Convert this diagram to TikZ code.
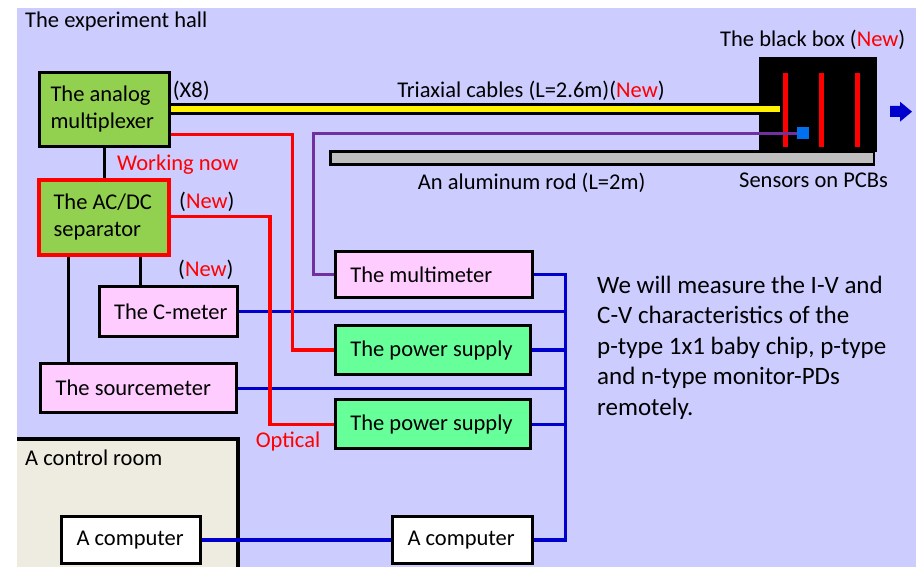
\documentclass[tikz,border=0pt]{standalone}
\usepackage{fontspec}
\setmainfont{Carlito}
\definecolor{hallbg}{HTML}{CCCCFF}
\definecolor{roombg}{HTML}{EEECE1}
\definecolor{muxgreen}{HTML}{92D050}
\definecolor{psgreen}{HTML}{66FF99}
\definecolor{meterpink}{HTML}{FFCCFF}
\definecolor{rodgray}{HTML}{BFBFBF}
\definecolor{fibrered}{HTML}{FF0000}
\definecolor{dmmpurple}{HTML}{7030A0}
\definecolor{gpibblue}{HTML}{0000CC}
\definecolor{pdblue}{HTML}{0070F0}
% Text links in einer Box fester Breite
\newcommand{\unittext}[2]{\makebox[#1pt][l]{#2}}
\tikzset{
  every node/.style={font=\fontsize{22.5}{27}\selectfont},
  unit/.style={draw=black, line width=3pt, inner xsep=15pt, inner ysep=0pt, align=left},
  lbl/.style={inner sep=0pt, text height=15pt, text depth=1pt},
  wire/.style={line width=3.3pt},
  optic/.style={draw=fibrered, line width=3.3pt},
  gpib/.style={draw=gpibblue, line width=3.3pt},
  cable/.style={draw=black, line width=3pt, double=yellow, double distance=6pt},
}
\begin{document}
\begin{tikzpicture}[x=1pt, y=-1pt, >=latex]
    \useasboundingbox (0,0) rectangle (924,567);
    % Halle und Kontrollraum
    \fill[hallbg] (17,8) rectangle (916,567);
    \fill[roombg] (17,438) rectangle (238,567);
    \draw[wire] (17,439) -- (238,439) -- (238,567);
    \node[lbl, anchor=west] (hall) at (25,20.7) {The experiment hall};
    \node[lbl, anchor=west] (room) at (25,458) {A control room};

    % Die schwarze Box mit Sensoren
    \node[fill=black, inner sep=0pt, minimum width=118, minimum height=95] (bbox) at (818,104.5) {};
    \foreach \i/\x in {1/785.5, 2/821.5, 3/857.5}
        \node[fill=fibrered, inner sep=0pt, minimum width=5, minimum height=74] (bar\i) at (\x,110) {};
    \node[fill=pdblue, inner sep=0pt, minimum size=12] (pd) at (803,133.5) {};
    \node[draw=black, line width=2.5pt, fill=rodgray, inner sep=0pt, minimum width=543.5, minimum height=13] (rod) at (602,158) {};
    \fill[gpibblue] (890,106) -- (900,106) -- (900,101.7) -- (912,111.7)
        -- (900,121.7) -- (900,117) -- (890,117) -- cycle;

    % Geraete
    \node[unit, fill=muxgreen, inner xsep=11pt, minimum height=74] (mux) at (104.5,109.5) {\unittext{108}{The analog}\\\unittext{108}{multiplexer}};
    \node[unit, draw=fibrered, line width=4pt, fill=muxgreen, inner xsep=14.5pt, minimum height=75] (sep) at (104,217.5) {\unittext{101}{The AC/DC}\\\unittext{101}{separator}};
    \node[unit, fill=meterpink, minimum height=49.7] (cmeter) at (168.4,311.3) {\unittext{108.6}{The C-meter}};
    \node[unit, fill=meterpink, minimum height=49] (srcm) at (138.7,388.2) {\unittext{166}{The sourcemeter}};
    \node[unit, fill=meterpink, minimum height=46] (mm) at (433.8,274.5) {\unittext{167}{The multimeter}};
    \node[unit, fill=psgreen, minimum height=49] (ps1) at (432.9,350) {\unittext{165}{The power supply}};
    \node[unit, fill=psgreen, minimum height=49] (ps2) at (432.9,424.2) {\unittext{165}{The power supply}};
    \node[unit, fill=white, minimum height=47] (pc1) at (131,540) {\unittext{109}{A computer}};
    \node[unit, fill=white, minimum height=47] (pc2) at (462.5,540) {\unittext{110}{A computer}};

    % Verbindungen
    \coordinate (bus) at (565.5,0);
    \draw[gpib] (mm.east) -| (bus |- pc2.east) -- (pc2.east);
    \foreach \n in {cmeter, ps1, srcm, ps2}
        \draw[gpib] (\n.east) -- (\n.east -| bus);
    \draw[gpib] (pc1.east) -- (pc2.west);
    \draw[wire] (mux.south) -- (mux.south |- sep.north);
    \draw[wire] ([xshift=-35.5pt]sep.south) -- ([xshift=-35.5pt]sep.south |- srcm.north);
    \draw[wire] ([xshift=36.5pt]sep.south) -- ([xshift=36.5pt]sep.south |- cmeter.north);
    \draw[optic] ([yshift=-25pt]mux.east) -- ++(121.5,0) |- (ps1.west);
    \draw[optic] ([yshift=1pt]sep.east) -- ++(99,0) |- (ps2.west);
    \draw[draw=dmmpurple, line width=2.8pt] (mm.west) -- ++(-20.5,0) |- (pd.west);
    \draw[cable] (mux.east) -- ([xshift=-3pt]mux.east -| bar1.west);

    % Beschriftungen
    \node[lbl, anchor=west] (x8) at (172.7,90.7) {(X8)};
    \node[lbl] (triax) at (531,90.7) {Triaxial cables (L=2.6m)(\textcolor{fibrered}{New})};
    \node[lbl] (rodlbl) at (531.7,182.7) {An aluminum rod (L=2m)};
    \node[lbl, anchor=west] (boxlbl) at (720,39.3) {The black box (\textcolor{fibrered}{New})};
    \node[lbl, anchor=west] (senslbl) at (739,180) {Sensors on PCBs};
    \node[lbl, anchor=west, text=fibrered] (work) at (117,164) {Working now};
    \node[lbl, anchor=west] (new1) at (179,201.7) {(\textcolor{fibrered}{New})};
    \node[lbl, anchor=west] (new2) at (178,269) {(\textcolor{fibrered}{New})};
    \node[lbl, anchor=west, text=fibrered] (opt) at (255.6,440) {Optical};
    \node[inner sep=0pt, anchor=north west, align=left, font=\fontsize{25}{30.5}\selectfont] (note) at (597,275.5)
        {We will measure the I-V and\\C-V characteristics of the\\p-type 1x1 baby chip, p-type\\and n-type monitor-PDs\\remotely.};
\end{tikzpicture}
\end{document}
